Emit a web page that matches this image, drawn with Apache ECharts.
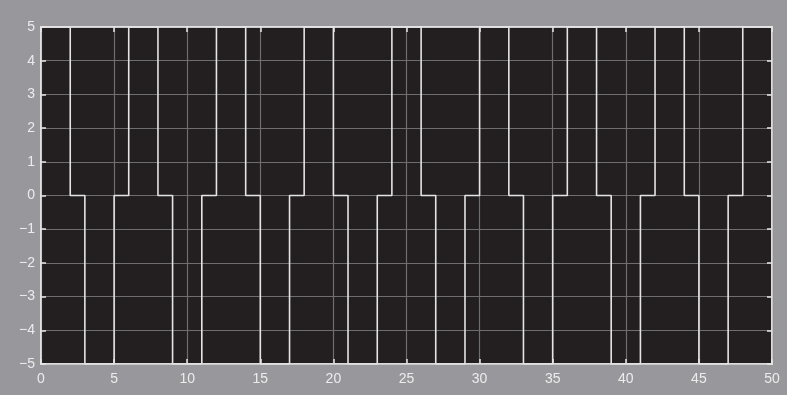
<!DOCTYPE html>
<html>
<head>
<meta charset="utf-8">
<script src="https://cdn.jsdelivr.net/npm/echarts@6/dist/echarts.min.js"></script>
<style>
html,body{margin:0;padding:0;background:#98989c;}
#chart{width:787px;height:395px;}
</style>
</head>
<body>
<div id="chart"></div>
<script>
// Step waveform: time of each level change and the level held from that time
const times  = [0, 2, 3, 5, 6, 8, 9, 11, 12, 14, 15, 17, 18, 20, 21, 23, 24, 26, 27, 29, 30, 32, 33, 35, 36, 38, 39, 41, 42, 44, 45, 47, 48, 50];
const levels = [5, 0, -5, 0, 5, 0, -5, 0, 5, 0, -5, 0, 5, 0, -5, 0, 5, 0, -5, 0, 5, 0, -5, 0, 5, 0, -5, 0, 5, 0, -5, 0, 5, 5];
const xTicks = [0, 5, 10, 15, 20, 25, 30, 35, 40, 45, 50];
const yTicks = [-5, -4, -3, -2, -1, 0, 1, 2, 3, 4, 5];

const data = times.map((t, i) => [t, levels[i]]);
const fmt = v => String(v).replace('-', '\u2212');
const labelStyle = {color: '#ececec', fontSize: 14, fontFamily: 'Liberation Sans, Arial, sans-serif'};
const boxLine = {show: true, onZero: false, lineStyle: {color: '#e8e8e8', width: 1.5}};
const inTick = {show: true, inside: true, length: 5, lineStyle: {color: '#e8e8e8', width: 1.5}};

const chart = echarts.init(document.getElementById('chart'), null, {renderer: 'canvas'});
chart.setOption({
  backgroundColor: '#98989c',
  animation: false,
  grid: {left: 41, right: 15, top: 27, bottom: 31, show: true, backgroundColor: '#231f20', borderColor: '#e8e8e8', borderWidth: 1.5},
  xAxis: [{
    type: 'value', min: xTicks[0], max: xTicks[xTicks.length - 1], interval: 5,
    axisLine: boxLine, axisTick: inTick,
    axisLabel: Object.assign({margin: 8, formatter: fmt}, labelStyle),
    splitLine: {show: true, lineStyle: {color: '#6e6e6e', width: 1.2}}
  }, {
    type: 'value', position: 'top', min: xTicks[0], max: xTicks[xTicks.length - 1], interval: 5,
    axisLine: boxLine, axisTick: inTick,
    axisLabel: {show: false}, splitLine: {show: false}
  }],
  yAxis: [{
    type: 'value', min: yTicks[0], max: yTicks[yTicks.length - 1], interval: 1,
    axisLine: boxLine, axisTick: inTick,
    axisLabel: Object.assign({margin: 6, formatter: fmt}, labelStyle),
    splitLine: {show: true, lineStyle: {color: '#6e6e6e', width: 1.2}}
  }, {
    type: 'value', position: 'right', min: yTicks[0], max: yTicks[yTicks.length - 1], interval: 1,
    axisLine: boxLine, axisTick: inTick,
    axisLabel: {show: false}, splitLine: {show: false}
  }],
  series: [{
    type: 'line', step: 'end', data: data, showSymbol: false, symbol: 'none',
    lineStyle: {color: '#e4e4e4', width: 1.6}, clip: true
  }]
});
</script>
</body>
</html>
